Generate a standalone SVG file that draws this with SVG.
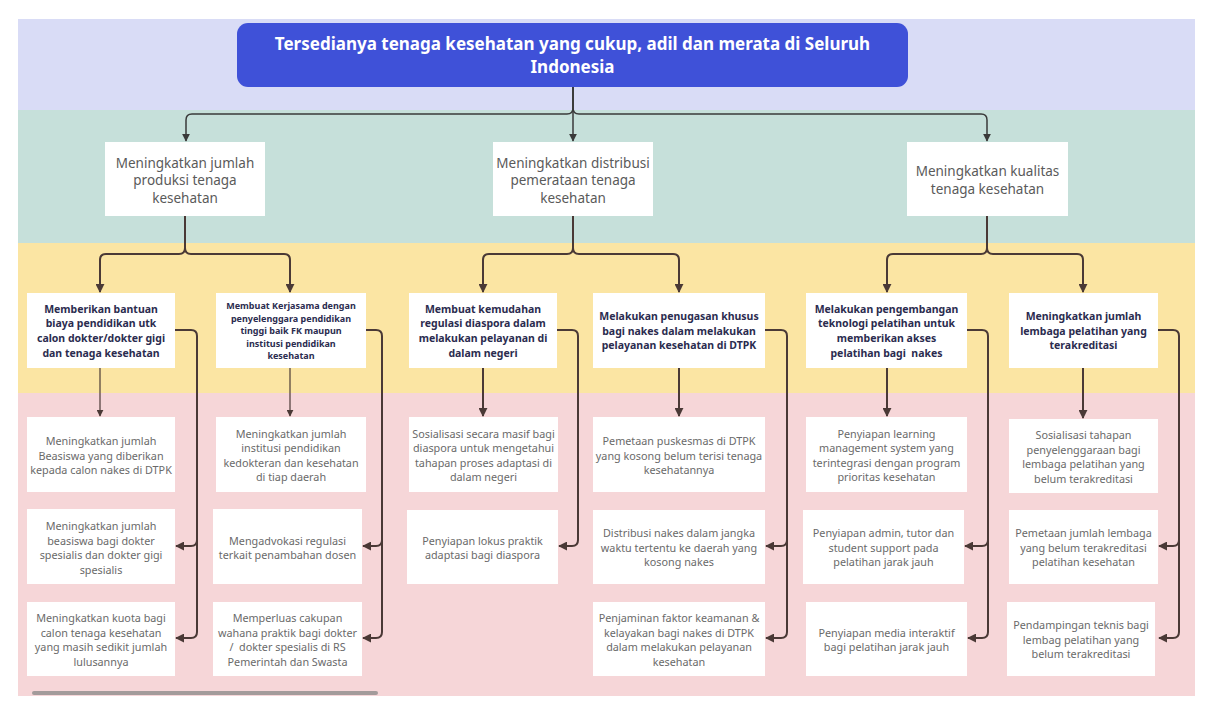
<svg xmlns="http://www.w3.org/2000/svg" width="1212" height="714" viewBox="0 0 1212 714">
<style>
.box{fill:#ffffff}
.t1{font-family:"Noto Sans","Open Sans",sans-serif;font-size:17px;font-weight:700;fill:#ffffff;text-anchor:middle}
.t2{font-family:"Noto Sans","Open Sans",sans-serif;font-size:13.5px;fill:#5a5a5a;text-anchor:middle}
.t3{font-family:"Noto Sans","Open Sans",sans-serif;font-size:10.5px;font-weight:700;fill:#2b2c4f;text-anchor:middle}
.t3s{font-family:"Noto Sans","Open Sans",sans-serif;font-size:9px;font-weight:700;fill:#2b2c4f;text-anchor:middle}
.t4{font-family:"Noto Sans","Open Sans",sans-serif;font-size:10.8px;fill:#6a6a6a;text-anchor:middle}
.ctop{fill:none;stroke:#3a3a3a;stroke-width:1.5;marker-end:url(#ahTop)}
.c{fill:none;stroke:#4a3936;stroke-width:2;marker-end:url(#ah)}
.cthin{fill:none;stroke:#4a3936;stroke-width:1.2;marker-end:url(#ahSmall)}
</style>
<defs>
<marker id="ah" viewBox="0 0 10 10" refX="9" refY="5" markerWidth="9" markerHeight="9" markerUnits="userSpaceOnUse" orient="auto"><path d="M0,0 L10,5 L0,10 z" fill="#4a3936"/></marker>
<marker id="ahSmall" viewBox="0 0 10 10" refX="9" refY="5" markerWidth="7" markerHeight="7" markerUnits="userSpaceOnUse" orient="auto"><path d="M0,0 L10,5 L0,10 z" fill="#4a3936"/></marker>
<marker id="ahTop" viewBox="0 0 10 10" refX="9" refY="5" markerWidth="8" markerHeight="8" markerUnits="userSpaceOnUse" orient="auto"><path d="M0,0 L10,5 L0,10 z" fill="#3a3a3a"/></marker>
</defs>
<rect x="0" y="0" width="1212" height="714" fill="#ffffff"/>
<g id="bands">
<rect x="18" y="19" width="1177" height="91" fill="#d9dcf6"/>
<rect x="18" y="110" width="1177" height="133" fill="#c6e0da"/>
<rect x="18" y="243" width="1177" height="150" fill="#fbe5a3"/>
<rect x="18" y="393" width="1177" height="303" fill="#f6d6d8"/>
<rect x="32" y="691" width="346" height="4" rx="2" fill="#a39b9b"/>
</g>
<g id="connectors">
<path class="ctop" d="M573,87 V108 Q573,114 567,114 H192 Q186,114 186,120 V141"/>
<path class="ctop" d="M573,87 V108 Q573,114 579,114 H981 Q987,114 987,120 V141"/>
<path class="ctop" d="M573,87 V141"/>
<path class="c" d="M185,216 V248 Q185,254 179,254 H106 Q100,254 100,260 V292"/>
<path class="c" d="M185,216 V248 Q185,254 191,254 H284 Q290,254 290,260 V292"/>
<path class="c" d="M573,216 V248 Q573,254 567,254 H489 Q483,254 483,260 V292"/>
<path class="c" d="M573,216 V248 Q573,254 579,254 H673 Q679,254 679,260 V292"/>
<path class="c" d="M987,216 V248 Q987,254 981,254 H893 Q887,254 887,260 V292"/>
<path class="c" d="M987,216 V248 Q987,254 993,254 H1077 Q1083,254 1083,260 V292"/>
<path class="cthin" d="M100,368 V416"/>
<path class="cthin" d="M290,368 V416"/>
<path class="c" d="M483,368 V416"/>
<path class="c" d="M679,368 V416"/>
<path class="c" d="M887,368 V416"/>
<path class="c" d="M1083,368 V418"/>
<path class="c" d="M175,330 H191 Q197,330 197,336 V632 Q197,638 191,638 H176"/>
<path class="c" d="M197,540 Q197,546 191,546 H176"/>
<path class="c" d="M366,330 H376 Q382,330 382,336 V632 Q382,638 376,638 H363"/>
<path class="c" d="M382,540 Q382,546 376,546 H363"/>
<path class="c" d="M557,330 H572 Q578,330 578,336 V540 Q578,546 572,546 H559"/>
<path class="c" d="M765,330 H781 Q787,330 787,336 V632 Q787,638 781,638 H766"/>
<path class="c" d="M787,540 Q787,546 781,546 H766"/>
<path class="c" d="M967,330 H982 Q988,330 988,336 V632 Q988,638 982,638 H968"/>
<path class="c" d="M988,540 Q988,546 982,546 H965"/>
<path class="c" d="M1158,330 H1173 Q1179,330 1179,336 V632 Q1179,638 1173,638 H1159"/>
<path class="c" d="M1179,540 Q1179,546 1173,546 H1159"/>
</g>
<g id="title">
<rect x="237" y="23" width="671" height="64" rx="11" fill="#3f51d8"/>
<text class="t1" x="572.5" y="50">Tersedianya tenaga kesehatan yang cukup, adil dan merata di Seluruh</text>
<text class="t1" x="572.5" y="73">Indonesia</text>
</g>
<g id="n1">
<rect class="box" x="105" y="142" width="160" height="74"/>
<text class="t2" x="185" y="167.6">Meningkatkan jumlah</text>
<text class="t2" x="185" y="185.1">produksi tenaga</text>
<text class="t2" x="185" y="202.6">kesehatan</text>
</g>
<g id="n2">
<rect class="box" x="493" y="142" width="160" height="74"/>
<text class="t2" x="573" y="167.6">Meningkatkan distribusi</text>
<text class="t2" x="573" y="185.1">pemerataan tenaga</text>
<text class="t2" x="573" y="202.6">kesehatan</text>
</g>
<g id="n3">
<rect class="box" x="907" y="142" width="161" height="74"/>
<text class="t2" x="987.5" y="176.4">Meningkatkan kualitas</text>
<text class="t2" x="987.5" y="193.9">tenaga kesehatan</text>
</g>
<g id="l3a">
<rect class="box" x="27" y="293" width="148" height="75"/>
<text class="t3" x="101" y="312.5">Memberikan bantuan</text>
<text class="t3" x="101" y="327.2">biaya pendidikan utk</text>
<text class="t3" x="101" y="342">calon dokter/dokter gigi</text>
<text class="t3" x="101" y="356.6">dan tenaga kesehatan</text>
</g>
<g id="l3b">
<rect class="box" x="216" y="293" width="150" height="75"/>
<text class="t3s" x="291" y="309.1">Membuat Kerjasama dengan</text>
<text class="t3s" x="291" y="321.6">penyelenggara pendidikan</text>
<text class="t3s" x="291" y="334.1">tinggi baik FK maupun</text>
<text class="t3s" x="291" y="346.6">institusi pendidikan</text>
<text class="t3s" x="291" y="359.1">kesehatan</text>
</g>
<g id="l3c">
<rect class="box" x="409" y="293" width="148" height="75"/>
<text class="t3" x="483" y="312.5">Membuat kemudahan</text>
<text class="t3" x="483" y="327.2">regulasi diaspora dalam</text>
<text class="t3" x="483" y="342">melakukan pelayanan di</text>
<text class="t3" x="483" y="356.6">dalam negeri</text>
</g>
<g id="l3d">
<rect class="box" x="593" y="293" width="172" height="75"/>
<text class="t3" x="679" y="319.9">Melakukan penugasan khusus</text>
<text class="t3" x="679" y="334.6">bagi nakes dalam melakukan</text>
<text class="t3" x="679" y="349.3">pelayanan kesehatan di DTPK</text>
</g>
<g id="l3e">
<rect class="box" x="806" y="293" width="161" height="75"/>
<text class="t3" x="886.5" y="312.5">Melakukan pengembangan</text>
<text class="t3" x="886.5" y="327.2">teknologi pelatihan untuk</text>
<text class="t3" x="886.5" y="342">memberikan akses</text>
<text class="t3" x="886.5" y="356.6">pelatihan bagi &#160;nakes</text>
</g>
<g id="l3f">
<rect class="box" x="1009" y="293" width="149" height="75"/>
<text class="t3" x="1083.5" y="319.9">Meningkatkan jumlah</text>
<text class="t3" x="1083.5" y="334.6">lembaga pelatihan yang</text>
<text class="t3" x="1083.5" y="349.3">terakreditasi</text>
</g>
<g id="b1a">
<rect class="box" x="27" y="417" width="148" height="75"/>
<text class="t4" x="101" y="445">Meningkatkan jumlah</text>
<text class="t4" x="101" y="459.5">Beasiswa yang diberikan</text>
<text class="t4" x="101" y="474">kepada calon nakes di DTPK</text>
</g>
<g id="b1b">
<rect class="box" x="27" y="509" width="148" height="75"/>
<text class="t4" x="101" y="530">Meningkatkan jumlah</text>
<text class="t4" x="101" y="544.5">beasiswa bagi dokter</text>
<text class="t4" x="101" y="559">spesialis dan dokter gigi</text>
<text class="t4" x="101" y="573.5">spesialis</text>
</g>
<g id="b1c">
<rect class="box" x="27" y="602" width="148" height="74"/>
<text class="t4" x="101" y="622">Meningkatkan kuota bagi</text>
<text class="t4" x="101" y="636.5">calon tenaga kesehatan</text>
<text class="t4" x="101" y="651">yang masih sedikit jumlah</text>
<text class="t4" x="101" y="665.5">lulusannya</text>
</g>
<g id="b2a">
<rect class="box" x="216" y="417" width="150" height="75"/>
<text class="t4" x="291" y="437.5">Meningkatkan jumlah</text>
<text class="t4" x="291" y="452">institusi pendidikan</text>
<text class="t4" x="291" y="466.5">kedokteran dan kesehatan</text>
<text class="t4" x="291" y="481">di tiap daerah</text>
</g>
<g id="b2b">
<rect class="box" x="213" y="509" width="149" height="75"/>
<text class="t4" x="287.5" y="544.5">Mengadvokasi regulasi</text>
<text class="t4" x="287.5" y="559">terkait penambahan dosen</text>
</g>
<g id="b2c">
<rect class="box" x="213" y="602" width="149" height="74"/>
<text class="t4" x="287.5" y="622">Memperluas cakupan</text>
<text class="t4" x="287.5" y="636.5">wahana praktik bagi dokter</text>
<text class="t4" x="287.5" y="651">/ &#160;dokter spesialis di RS</text>
<text class="t4" x="287.5" y="665.5">Pemerintah dan Swasta</text>
</g>
<g id="b3a">
<rect class="box" x="409" y="417" width="149" height="75"/>
<text class="t4" x="483.5" y="437.5">Sosialisasi secara masif bagi</text>
<text class="t4" x="483.5" y="452">diaspora untuk mengetahui</text>
<text class="t4" x="483.5" y="466.5">tahapan proses adaptasi di</text>
<text class="t4" x="483.5" y="481">dalam negeri</text>
</g>
<g id="b3b">
<rect class="box" x="407" y="510" width="151" height="74"/>
<text class="t4" x="482.5" y="544.5">Penyiapan lokus praktik</text>
<text class="t4" x="482.5" y="559">adaptasi bagi diaspora</text>
</g>
<g id="b4a">
<rect class="box" x="593" y="417" width="172" height="75"/>
<text class="t4" x="679" y="445">Pemetaan puskesmas di DTPK</text>
<text class="t4" x="679" y="459.5">yang kosong belum terisi tenaga</text>
<text class="t4" x="679" y="474">kesehatannya</text>
</g>
<g id="b4b">
<rect class="box" x="593" y="510" width="172" height="74"/>
<text class="t4" x="679" y="537.3">Distribusi nakes dalam jangka</text>
<text class="t4" x="679" y="551.8">waktu tertentu ke daerah yang</text>
<text class="t4" x="679" y="566.3">kosong nakes</text>
</g>
<g id="b4c">
<rect class="box" x="593" y="602" width="172" height="74"/>
<text class="t4" x="679" y="622">Penjaminan faktor keamanan &amp;</text>
<text class="t4" x="679" y="636.5">kelayakan bagi nakes di DTPK</text>
<text class="t4" x="679" y="651">dalam melakukan pelayanan</text>
<text class="t4" x="679" y="665.5">kesehatan</text>
</g>
<g id="b5a">
<rect class="box" x="806" y="417" width="161" height="75"/>
<text class="t4" x="886.5" y="437.5">Penyiapan learning</text>
<text class="t4" x="886.5" y="452">management system yang</text>
<text class="t4" x="886.5" y="466.5">terintegrasi dengan program</text>
<text class="t4" x="886.5" y="481">prioritas kesehatan</text>
</g>
<g id="b5b">
<rect class="box" x="803" y="510" width="161" height="74"/>
<text class="t4" x="883.5" y="537.3">Penyiapan admin, tutor dan</text>
<text class="t4" x="883.5" y="551.8">student support pada</text>
<text class="t4" x="883.5" y="566.3">pelatihan jarak jauh</text>
</g>
<g id="b5c">
<rect class="box" x="806" y="602" width="161" height="74"/>
<text class="t4" x="886.5" y="636.5">Penyiapan media interaktif</text>
<text class="t4" x="886.5" y="651">bagi pelatihan jarak jauh</text>
</g>
<g id="b6a">
<rect class="box" x="1009" y="419" width="149" height="74"/>
<text class="t4" x="1083.5" y="439">Sosialisasi tahapan</text>
<text class="t4" x="1083.5" y="453.5">penyelenggaraan bagi</text>
<text class="t4" x="1083.5" y="468">lembaga pelatihan yang</text>
<text class="t4" x="1083.5" y="482.5">belum terakreditasi</text>
</g>
<g id="b6b">
<rect class="box" x="1009" y="510" width="149" height="74"/>
<text class="t4" x="1083.5" y="537.3">Pemetaan jumlah lembaga</text>
<text class="t4" x="1083.5" y="551.8">yang belum terakreditasi</text>
<text class="t4" x="1083.5" y="566.3">pelatihan kesehatan</text>
</g>
<g id="b6c">
<rect class="box" x="1007" y="602" width="148" height="74"/>
<text class="t4" x="1081" y="629.3">Pendampingan teknis bagi</text>
<text class="t4" x="1081" y="643.8">lembag pelatihan yang</text>
<text class="t4" x="1081" y="658.3">belum terakreditasi</text>
</g>
</svg>
